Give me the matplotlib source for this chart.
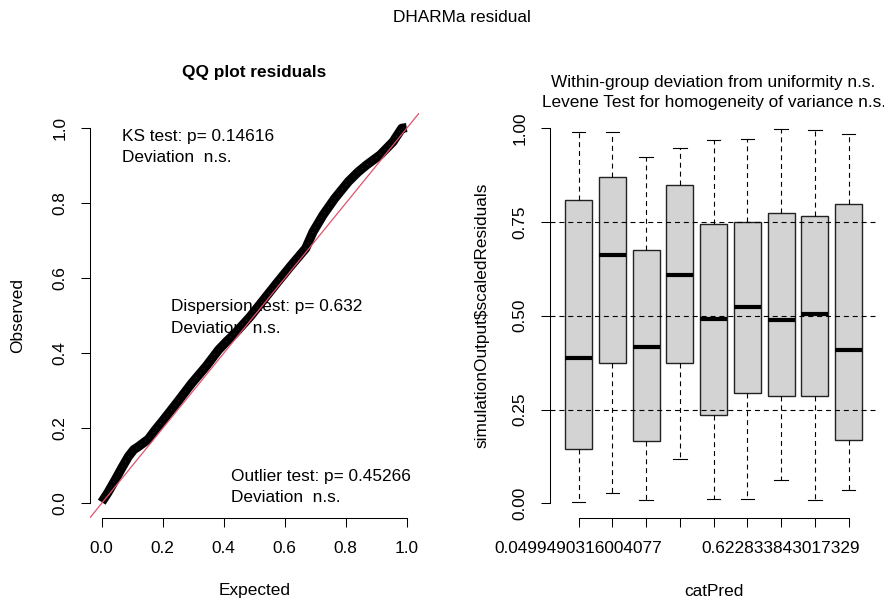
import matplotlib
matplotlib.use("Agg")
import matplotlib.pyplot as plt

plt.rcParams['font.family'] = ['Liberation Sans', 'DejaVu Sans']

W, H = 884, 605
FS = 12.4

# QQ plot: expected vs observed quantiles of the scaled residuals
expected = [0.000, 0.020, 0.044, 0.065, 0.087, 0.105, 0.120, 0.153, 0.175, 0.202,
            0.251, 0.295, 0.342, 0.383, 0.410, 0.437, 0.487, 0.530, 0.574, 0.618,
            0.645, 0.669, 0.693, 0.726, 0.764, 0.809, 0.840, 0.868, 0.913, 0.955,
            0.984, 1.000]
observed = [0.003, 0.028, 0.062, 0.093, 0.124, 0.143, 0.151, 0.171, 0.195, 0.222,
            0.273, 0.320, 0.365, 0.409, 0.432, 0.453, 0.498, 0.542, 0.587, 0.631,
            0.657, 0.680, 0.724, 0.769, 0.813, 0.858, 0.883, 0.902, 0.929, 0.964,
            1.000, 1.002]

qq_ticks = [0.0, 0.2, 0.4, 0.6, 0.8, 1.0]
qq_tick_labels = ["0.0", "0.2", "0.4", "0.6", "0.8", "1.0"]

# Residuals grouped by catPred
cat_labels = ["0.0499490316004077", "", "", "", "", "", "0.622833843017329", "", ""]
whisker_low = [0.004, 0.027, 0.009, 0.117, 0.012, 0.012, 0.063, 0.009, 0.035]
quart_low = [0.145, 0.373, 0.165, 0.374, 0.236, 0.293, 0.285, 0.285, 0.169]
medians = [0.388, 0.661, 0.418, 0.608, 0.492, 0.524, 0.489, 0.505, 0.409]
quart_high = [0.808, 0.871, 0.676, 0.849, 0.745, 0.751, 0.774, 0.767, 0.799]
whisker_high = [0.990, 0.990, 0.924, 0.947, 0.968, 0.971, 0.999, 0.996, 0.984]

res_ticks = [0.00, 0.25, 0.50, 0.75, 1.00]
res_tick_labels = ["0.00", "0.25", "0.50", "0.75", "1.00"]
ref_levels = [0.25, 0.50, 0.75]

ks_text = ["KS test: p= 0.14616", "Deviation  n.s."]
disp_text = ["Dispersion test: p= 0.632", "Deviation  n.s."]
out_text = ["Outlier test: p= 0.45266", "Deviation  n.s."]


def fx(px):
    return px / W


def fy(py):
    return 1 - py / H


fig = plt.figure(figsize=(W / 100, H / 100), dpi=100)

axb = (fy(518.3), fy(113.3))
ax1 = fig.add_axes([fx(89.5), axb[0], fx(418.9) - fx(89.5), axb[1] - axb[0]])
ax2 = fig.add_axes([fx(549.5), axb[0], fx(877.7) - fx(549.5), axb[1] - axb[0]])

tick_kw = dict(length=6.8, width=0.75, color='black', labelsize=FS, direction='out')

# ---- left panel: QQ plot ----
ax1.set_xlim(-0.04, 1.04)
ax1.set_ylim(-0.04, 1.04)
for t, (x, y) in zip(ks_text, [(0.066, 0.979), (0.066, 0.923)]):
    ax1.text(x, y, t, fontsize=FS, va='center', ha='left', zorder=1)
for t, (x, y) in zip(disp_text, [(0.226, 0.524), (0.226, 0.467)]):
    ax1.text(x, y, t, fontsize=FS, va='center', ha='left', zorder=1)
for t, (x, y) in zip(out_text, [(0.423, 0.071), (0.423, 0.015)]):
    ax1.text(x, y, t, fontsize=FS, va='center', ha='left', zorder=1)

ax1.plot(expected, observed, color='black', lw=6.6, solid_joinstyle='round',
         solid_capstyle='butt', zorder=3)
ax1.plot(expected, observed, color='#3a3a3a', lw=0.6, ls=(0, (1, 6)), zorder=3.5)
ax1.axline((0, 0), slope=1, color='#DF536B', lw=0.9, zorder=4)

ax1.set_xticks(qq_ticks, qq_tick_labels)
ax1.set_yticks(qq_ticks, qq_tick_labels)
ax1.tick_params(axis='x', pad=9.5, **tick_kw)
ax1.tick_params(axis='y', pad=9.0, labelrotation=90, **tick_kw)
for lab in ax1.get_yticklabels():
    lab.set_va('center')
for s in ['top', 'right']:
    ax1.spines[s].set_visible(False)
ax1.spines['left'].set_bounds(0, 1)
ax1.spines['bottom'].set_bounds(0, 1)
for s in ['left', 'bottom']:
    ax1.spines[s].set_linewidth(0.75)

# ---- right panel: boxplots by group ----
ax2.set_xlim(0.14, 9.86)
ax2.set_ylim(-0.04, 1.04)
positions = list(range(1, len(medians) + 1))
stats = [dict(whislo=a, q1=b, med=c, q3=d, whishi=e, fliers=[])
         for a, b, c, d, e in zip(whisker_low, quart_low, medians, quart_high, whisker_high)]
ax2.bxp(stats, positions=positions, widths=0.8, patch_artist=True, showfliers=False,
        capwidths=0.4,
        boxprops=dict(facecolor='#D3D3D3', edgecolor='#222222', linewidth=1.0),
        medianprops=dict(color='black', linewidth=3.0, solid_capstyle='butt'),
        whiskerprops=dict(color='black', linewidth=0.8, linestyle=(0, (4.5, 3.5))),
        capprops=dict(color='black', linewidth=0.8))
for lv in ref_levels:
    ax2.axhline(lv, color='black', lw=0.8, ls=(0, (4.5, 3.5)), zorder=5)

ax2.set_xticks(positions, cat_labels)
ax2.set_yticks(res_ticks, res_tick_labels)
ax2.tick_params(axis='x', pad=9.5, **tick_kw)
ax2.tick_params(axis='y', pad=9.0, labelrotation=90, **tick_kw)
for lab in ax2.get_yticklabels():
    lab.set_va('center')
for s in ['top', 'right']:
    ax2.spines[s].set_visible(False)
ax2.spines['left'].set_bounds(0, 1)
ax2.spines['bottom'].set_bounds(1, 9)
for s in ['left', 'bottom']:
    ax2.spines[s].set_linewidth(0.75)

# ---- titles and axis labels ----
fig.text(fx(462), fy(18), "DHARMa residual", fontsize=FS, ha='center', va='center')
fig.text(fx(254.5), fy(72), "QQ plot residuals", fontsize=FS, fontweight='bold',
         ha='center', va='center')
fig.text(fx(713.5), fy(82), "Within-group deviation from uniformity n.s.", fontsize=FS,
         ha='center', va='center')
fig.text(fx(713.5), fy(103), "Levene Test for homogeneity of variance n.s.", fontsize=FS,
         ha='center', va='center')
fig.text(fx(254.2), fy(591), "Expected", fontsize=FS, ha='center', va='center')
fig.text(fx(713.6), fy(591), "catPred", fontsize=FS, ha='center', va='center')
fig.text(fx(18), fy(315.8), "Observed", fontsize=FS, ha='center', va='center', rotation=90)
fig.text(fx(482), fy(315.8), "simulationOutput$scaledResiduals", fontsize=FS,
         ha='center', va='center', rotation=90)

fig.savefig("out.png", dpi=100)
